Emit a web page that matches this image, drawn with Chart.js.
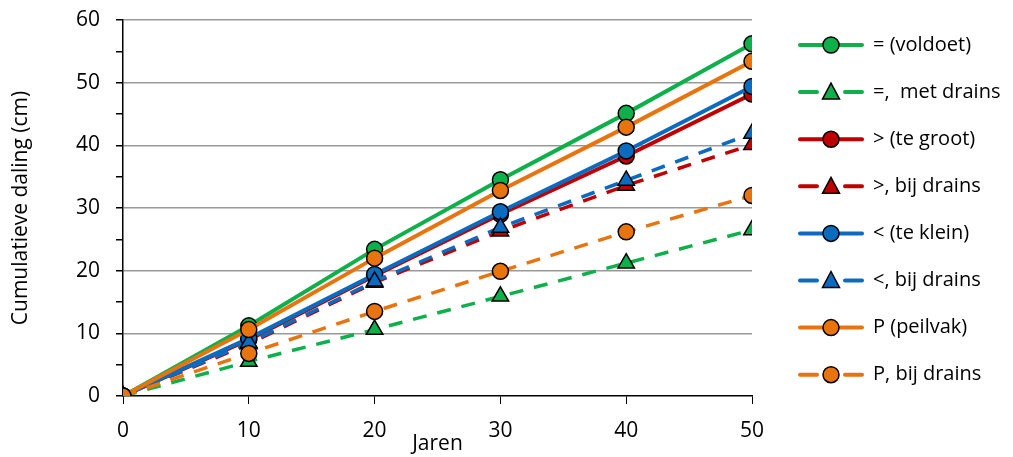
<!DOCTYPE html>
<html>
<head>
<meta charset="utf-8">
<script src="https://cdn.jsdelivr.net/npm/chart.js@4/dist/chart.umd.min.js"></script>
<style>
    html, body { margin: 0; padding: 0; background: #fff; }
    #wrap { width: 1013px; height: 457px; position: relative; }
</style>
</head>
<body>
<div id="wrap"><canvas id="daling-chart"></canvas></div>
<script>
// jaren op de x-as
const jaren = [0, 10, 20, 30, 40, 50]
const yTicks = [0, 10, 20, 30, 40, 50, 60]

const labels = ['= (voldoet)', '=,  met drains', '> (te groot)', '>, bij drains',
    '< (te klein)', '<, bij drains', 'P (peilvak)', 'P, bij drains']

const voldoet = [0, 11.2, 23.4, 34.5, 45.1, 56.2]
const voldoetDrains = [0, 5.5, 10.6, 15.9, 21.2, 26.5]
const teGroot = [0, 9.0, 19.2, 29.0, 38.3, 48.2]
const teGrootDrains = [0, 8.3, 18.1, 26.3, 33.6, 40.1]
const teKlein = [0, 9.2, 19.4, 29.4, 39.1, 49.4]
const teKleinDrains = [0, 8.5, 18.3, 26.9, 34.4, 41.9]
const peilvak = [0, 10.6, 22.0, 32.8, 42.9, 53.4]
const peilvakDrains = [0, 6.8, 13.5, 19.9, 26.2, 32.0]

const green = '#0DB04B'
const red = '#C00000'
const blue = '#0B6BBF'
const orange = '#E8740F'

const series = [
    { data: voldoet, color: green, dashed: false, marker: 'circle' },
    { data: voldoetDrains, color: green, dashed: true, marker: 'triangle' },
    { data: teGroot, color: red, dashed: false, marker: 'circle' },
    { data: teGrootDrains, color: red, dashed: true, marker: 'triangle' },
    { data: teKlein, color: blue, dashed: false, marker: 'circle' },
    { data: teKleinDrains, color: blue, dashed: true, marker: 'triangle' },
    { data: peilvak, color: orange, dashed: false, marker: 'circle' },
    { data: peilvakDrains, color: orange, dashed: true, marker: 'circle' }
]

const FONT = 'Open Sans, Liberation Sans, sans-serif'

// legenda rechts, zelf getekend (lijn + marker)
const sideLegend = {
    id: 'sideLegend',
    afterDraw(chart) {
        const ctx = chart.ctx
        ctx.save()
        series.forEach((s, i) => {
            const y = 45 + i * 47.1
            const x0 = 800, x1 = 862, xm = 831
            ctx.strokeStyle = s.color
            ctx.lineWidth = 4
            ctx.lineCap = 'round'
            ctx.beginPath()
            if (s.dashed) {
                ctx.moveTo(x0, y); ctx.lineTo(817, y)
                ctx.moveTo(845, y); ctx.lineTo(x1, y)
            } else {
                ctx.moveTo(x0, y); ctx.lineTo(x1, y)
            }
            ctx.stroke()
            ctx.fillStyle = s.color
            ctx.strokeStyle = '#000'
            ctx.lineWidth = 1.5
            ctx.beginPath()
            if (s.marker === 'circle') {
                ctx.arc(xm, y, 8, 0, Math.PI * 2)
            } else {
                ctx.moveTo(xm, y - 9)
                ctx.lineTo(xm + 8.5, y + 7)
                ctx.lineTo(xm - 8.5, y + 7)
                ctx.closePath()
            }
            ctx.fill()
            ctx.stroke()

            ctx.fillStyle = '#000'
            ctx.font = '20px ' + FONT
            ctx.textBaseline = 'middle'
            ctx.fillText(labels[i], 873, y)
        })
        ctx.restore()
    }
}

const datasets = series.map((s, i) => ({
    label: labels[i],
    data: s.data.map((v, j) => ({ x: jaren[j], y: v })),
    borderColor: s.color,
    backgroundColor: s.color,
    borderWidth: s.dashed ? 3.5 : 4,
    borderDash: s.dashed ? [14, 11] : [],
    pointStyle: s.marker,
    pointRadius: s.marker === 'circle' ? 8 : 9.5,
    pointBorderColor: '#000',
    pointBorderWidth: 1.5,
    pointBackgroundColor: s.color,
    tension: 0,
    order: series.length - i
}))

const chartCanvas = document.getElementById('daling-chart').getContext('2d')
const dalingChart = new Chart(chartCanvas, {
    type: 'line',
    data: { datasets: datasets },
    options: {
        responsive: true,
        maintainAspectRatio: false,
        animation: false,
        layout: { padding: { left: 8, top: 20, right: 261, bottom: 0 } },
        plugins: {
            legend: { display: false },
            tooltip: { enabled: false }
        },
        scales: {
            x: {
                type: 'linear',
                min: 0,
                max: 50,
                afterFit: (scale) => {
                    scale.height = 61
                    scale.paddingLeft = 0
                    scale.paddingRight = 0
                },
                ticks: {
                    stepSize: 10,
                    color: '#000',
                    font: { family: FONT, size: 21 },
                    padding: 14
                },
                grid: { drawOnChartArea: false, drawTicks: true, tickLength: 8, tickColor: '#000' },
                border: { color: '#000', width: 1.5 },
                title: {
                    display: true,
                    text: 'Jaren',
                    color: '#000',
                    font: { family: FONT, size: 21 },
                    padding: { top: -14, bottom: 0 }
                }
            },
            y: {
                min: 0,
                max: 60,
                afterFit: (scale) => {
                    scale.width = 115
                    scale.paddingTop = 0
                    scale.paddingBottom = 0
                },
                ticks: {
                    stepSize: 5,
                    color: '#000',
                    font: { family: FONT, size: 21 },
                    padding: 16,
                    callback: (v) => yTicks.includes(v) ? v : ''
                },
                grid: {
                    color: (c) => c.tick && c.tick.value % 10 === 0 && c.tick.value > 0 ? '#999' : 'rgba(0,0,0,0)',
                    lineWidth: 1.5,
                    drawTicks: true,
                    tickLength: 7,
                    tickColor: '#000'
                },
                border: { color: '#000', width: 1.5 },
                title: {
                    display: true,
                    text: 'Cumulatieve daling (cm)',
                    color: '#000',
                    font: { family: FONT, size: 21 },
                    padding: { top: 0, bottom: 4 }
                }
            }
        }
    },
    plugins: [sideLegend]
})
</script>
</body>
</html>
